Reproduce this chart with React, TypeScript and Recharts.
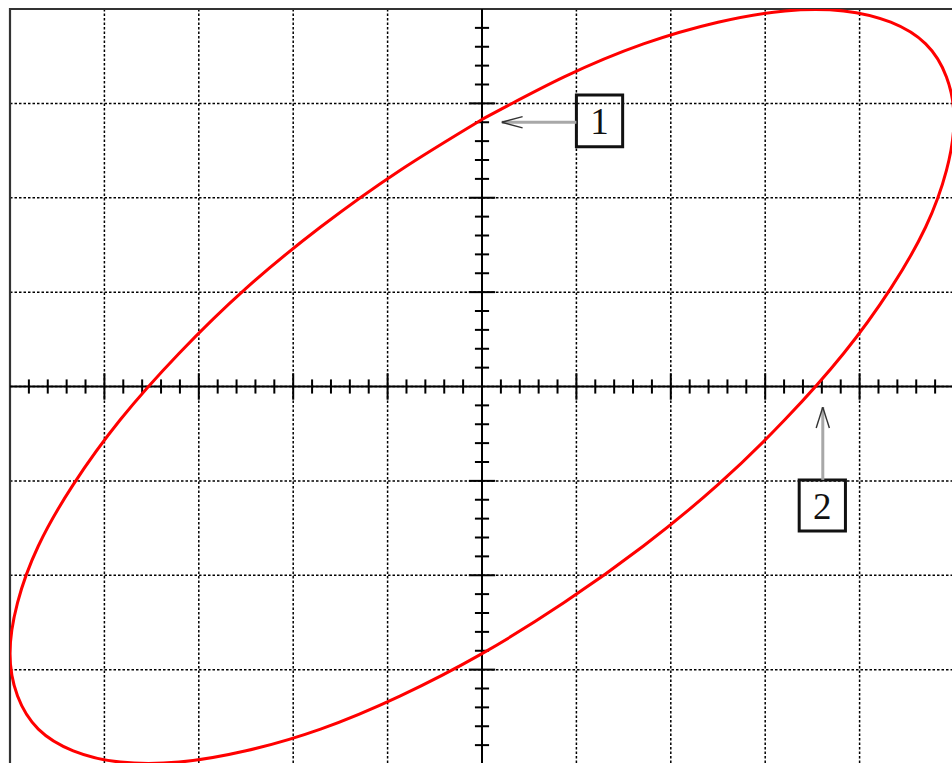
import { LineChart, Line, XAxis, YAxis, CartesianGrid, ReferenceLine, ReferenceArea } from "recharts"

// ellipse, one division = 1 unit
const xs = [
  0, 0.87, 1.71, 2.5, 3.21, 3.83, 4.33, 4.7, 4.92, 5, 4.92, 4.7, 4.33, 3.83, 3.21, 2.5, 1.71, 0.87,
  0, -0.87, -1.71, -2.5, -3.21, -3.83, -4.33, -4.7, -4.92, -5, -4.92, -4.7, -4.33, -3.83, -3.21, -2.5, -1.71, -0.87,
  0,
]
const ys = [
  2.83, 3.28, 3.63, 3.86, 3.98, 3.98, 3.86, 3.63, 3.28, 2.83, 2.29, 1.69, 1.04, 0.35, -0.35, -1.04, -1.69, -2.29,
  -2.83, -3.28, -3.63, -3.86, -3.98, -3.98, -3.86, -3.63, -3.28, -2.83, -2.29, -1.69, -1.04, -0.35, 0.35, 1.04, 1.69, 2.29,
  2.83,
]

const gridX = [-5, -4, -3, -2, -1, 0, 1, 2, 3, 4, 5]
const gridY = [-4, -3, -2, -1, 0, 1, 2, 3, 4]

// marker boxes and where their arrows point
const markers = [
  { label: "1", x1: 1.0, x2: 1.49, y1: 2.54, y2: 3.09, from: { x: 1.0, y: 2.8 }, tip: { x: 0.21, y: 2.8 } },
  { label: "2", x1: 3.36, x2: 3.85, y1: -1.53, y2: -0.99, from: { x: 3.61, y: -0.99 }, tip: { x: 3.61, y: -0.22 } },
]

const data = xs.map((x, i) => ({ x, y: ys[i] }))

const ticksX = Array.from({ length: 49 }, (_, i) => Math.round((-4.8 + i * 0.2) * 10) / 10).filter((t) => t !== 0)
const ticksY = Array.from({ length: 39 }, (_, i) => Math.round((-3.8 + i * 0.2) * 10) / 10).filter((t) => t !== 0)

export default function App() {
  return (
    <div style={{ position: "absolute", left: 0, top: 0, width: 952, height: 763, overflow: "hidden", background: "#fff" }}>
      <LineChart width={960} height={775} data={data} margin={{ top: 9, right: 6, bottom: 11, left: 10 }}>
        <XAxis dataKey="x" type="number" domain={[-5, 5]} ticks={gridX} allowDataOverflow hide />
        <YAxis type="number" domain={[-4, 4]} ticks={gridY} allowDataOverflow hide />
        <CartesianGrid stroke="#000" strokeWidth={1.5} strokeDasharray="2.5 2" />
        <ReferenceArea x1={-5} x2={5} y1={-4} y2={4} fill="none" stroke="#333" strokeWidth={2.2} ifOverflow="visible" />
        <ReferenceLine x={0} stroke="#000" strokeWidth={2} />
        <ReferenceLine y={0} stroke="#000" strokeWidth={2} />
        {ticksX.map((t) => {
          const h = Number.isInteger(t) ? 0.14 : 0.075
          return (
            <ReferenceLine key={`tx${t}`} segment={[{ x: t, y: -h }, { x: t, y: h }]} stroke="#000" strokeWidth={2} />
          )
        })}
        {ticksY.map((t) => {
          const w = Number.isInteger(t) ? 0.14 : 0.075
          return (
            <ReferenceLine key={`ty${t}`} segment={[{ x: -w, y: t }, { x: w, y: t }]} stroke="#000" strokeWidth={2} />
          )
        })}
        {markers.map((m) => {
          const horiz = m.from.y === m.tip.y
          const arms = horiz
            ? [{ x: m.tip.x + 0.22, y: m.tip.y + 0.06 }, { x: m.tip.x + 0.22, y: m.tip.y - 0.06 }]
            : [{ x: m.tip.x - 0.07, y: m.tip.y - 0.22 }, { x: m.tip.x + 0.07, y: m.tip.y - 0.22 }]
          return [
            <ReferenceLine key={`a${m.label}`} segment={[m.from, m.tip]} stroke="#a8a8a8" strokeWidth={3} />,
            ...arms.map((p, i) => (
              <ReferenceLine key={`h${m.label}${i}`} segment={[p, m.tip]} stroke="#333" strokeWidth={1.4} />
            )),
            <ReferenceArea
              key={`b${m.label}`}
              x1={m.x1}
              x2={m.x2}
              y1={m.y1}
              y2={m.y2}
              fill="none"
              stroke="#111"
              strokeWidth={3}
              label={{ value: m.label, position: "center", fontSize: 37, fontFamily: "Liberation Serif", fill: "#111" }}
            />,
          ]
        })}
        <Line
          dataKey="y"
          type="natural"
          stroke="#ff0000"
          strokeWidth={3}
          dot={false}
          isAnimationActive={false}
        />
      </LineChart>
    </div>
  )
}
